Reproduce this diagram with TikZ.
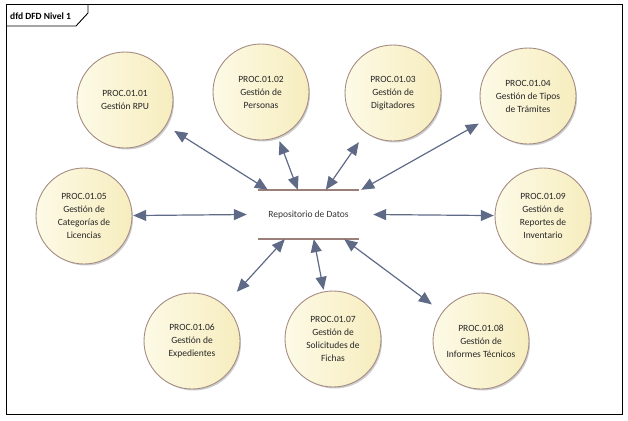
\documentclass[tikz,border=0pt]{standalone}
\usepackage{fontspec}
\setmainfont{Carlito}
\usetikzlibrary{arrows.meta}
\usepackage{xcolor}

\definecolor{flowc}{RGB}{95,106,135}
\definecolor{storec}{RGB}{155,128,122}
\definecolor{procedge}{RGB}{165,140,132}
\definecolor{procleft}{RGB}{253,250,230}
\definecolor{procright}{RGB}{246,237,190}
\definecolor{shadowc}{RGB}{205,205,205}

\begin{document}
\begin{tikzpicture}[x=1pt, y=-1pt,
    proc/.style={rectangle, minimum size=98pt, inner sep=0pt, align=center,
        font=\fontsize{9.5}{13}\selectfont, text=black!85,
        path picture={
            \fill[shadowc] ([xshift=2pt, yshift=-2.5pt]path picture bounding box.center) circle (47pt);
            \shade[left color=procleft, right color=procright] (path picture bounding box.center) circle (48pt);
            \draw[procedge, line width=0.9pt] (path picture bounding box.center) circle (48pt);
        }},
    flow/.style={{Triangle[length=13pt, width=11pt]}-{Triangle[length=13pt, width=11pt]},
        draw=flowc, line width=1.2pt},
    storeline/.style={draw=storec, line width=2.5pt}]
    \useasboundingbox (0,0) rectangle (628,420);

    % frame
    \draw[line width=1pt] (6,5) rectangle (622,414);
    \draw[line width=0.9pt] (6,26) -- (76,26) -- (88,13) -- (88,5);
    \node[anchor=west, inner sep=0pt, font=\bfseries\fontsize{9.5}{11}\selectfont] (title) at (10,16) {dfd DFD Nivel 1};

    % processes
    \node[proc] (p01) at (125,100) {PROC.01.01\\Gestión RPU};
    \node[proc] (p02) at (261,92) {PROC.01.02\\Gestión de\\Personas};
    \node[proc] (p03) at (393,93) {PROC.01.03\\Gestión de\\Digitadores};
    \node[proc] (p04) at (528,96) {PROC.01.04\\Gestión de Tipos\\de Trámites};
    \node[proc] (p05) at (84,216) {PROC.01.05\\Gestión de\\Categorías de\\Licencias};
    \node[proc] (p09) at (543,216) {PROC.01.09\\Gestión de\\Reportes de\\Inventario};
    \node[proc] (p06) at (192,341) {PROC.01.06\\Gestión de\\Expedientes};
    \node[proc] (p07) at (333,339) {PROC.01.07\\Gestión de\\Solicitudes de\\Fichas};
    \node[proc] (p08) at (481,341) {PROC.01.08\\Gestión de\\Informes Técnicos};

    % data store
    \node[minimum width=101pt, minimum height=49pt, inner sep=0pt, text=black!80,
        font=\fontsize{9.5}{11}\selectfont] (repo) at (308.5,214.5) {Repositorio de Datos};
    \draw[storeline] (repo.north west) -- (repo.north east);
    \draw[storeline] (repo.south west) -- (repo.south east);

    % flows
    \draw[flow] (p01) -- ([xshift=10pt]repo.north west);
    \draw[flow] (p02) -- ([xshift=40pt]repo.north west);
    \draw[flow] (p03) -- ([xshift=68pt]repo.north west);
    \draw[flow] (p04) -- ([xshift=2pt]repo.north east);
    \draw[flow] (p05) -- ([xshift=-11pt]repo.west);
    \draw[flow] (p09) -- ([xshift=14pt]repo.east);
    \draw[flow] (p06) -- ([xshift=27pt]repo.south west);
    \draw[flow] (p07) -- ([xshift=56pt]repo.south west);
    \draw[flow] (p08) -- ([xshift=-15pt]repo.south east);
\end{tikzpicture}
\end{document}
